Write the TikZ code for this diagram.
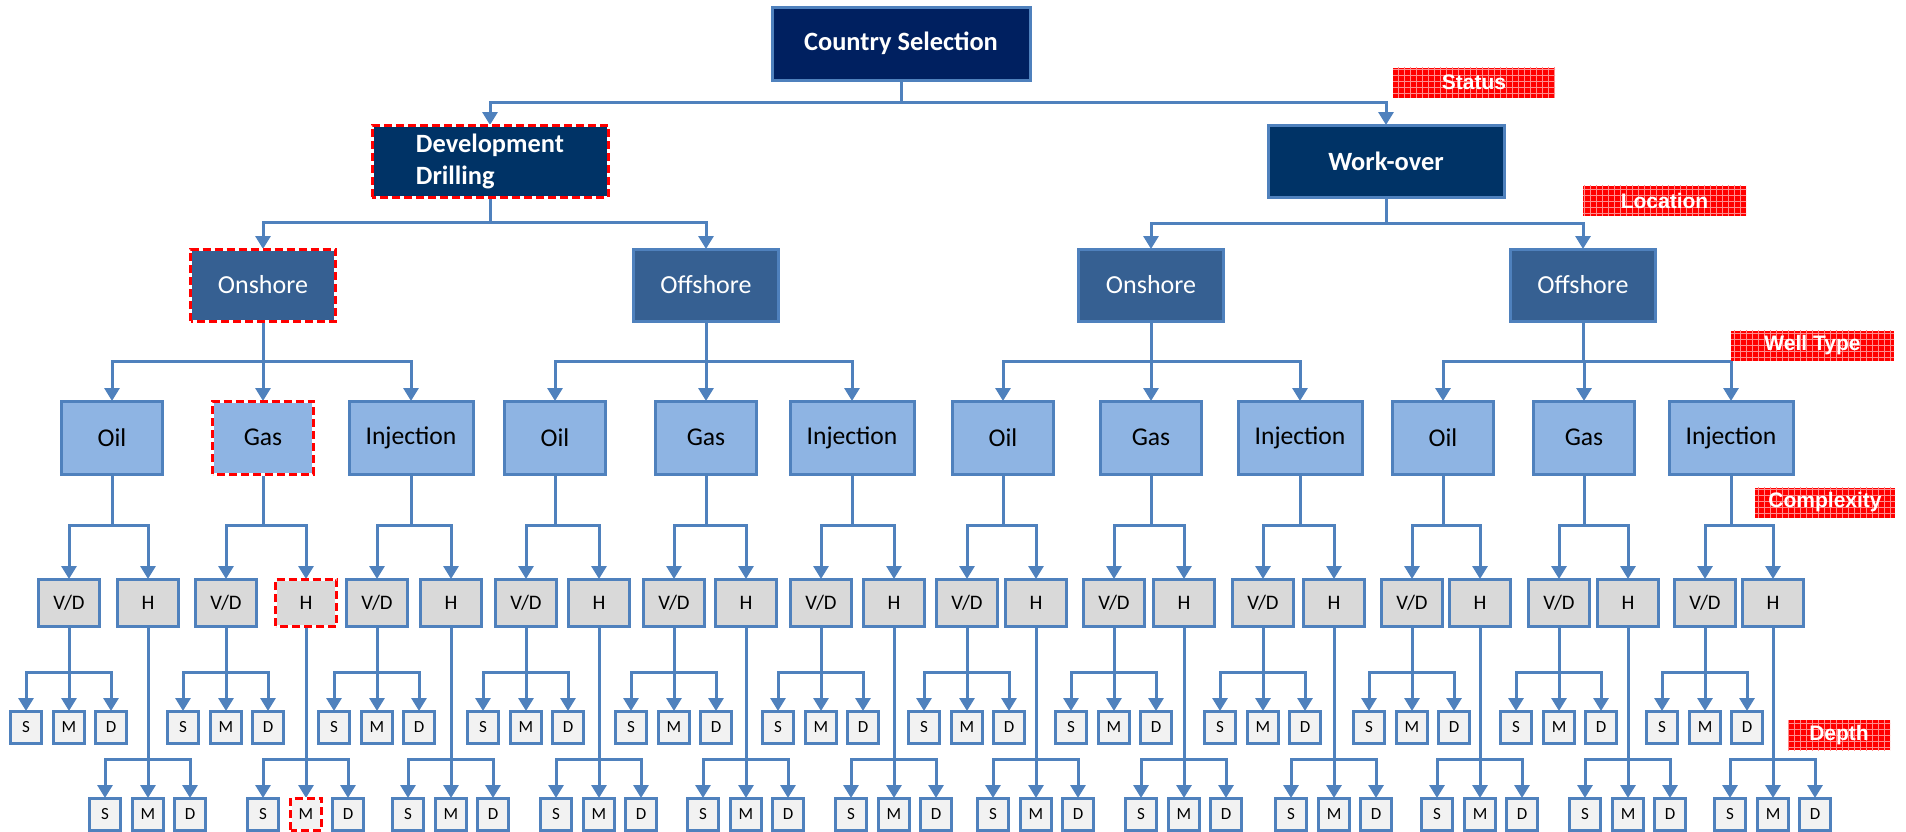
\documentclass[tikz,border=0pt]{standalone}
\usepackage{fontspec}
\setmainfont{Carlito}
\newfontfamily\tagfont{Liberation Sans}
\usetikzlibrary{arrows.meta,patterns}

\definecolor{edgeblue}{RGB}{79,129,189}
\definecolor{navy}{RGB}{0,32,96}
\definecolor{darkblue}{RGB}{0,51,102}
\definecolor{midblue}{RGB}{54,96,146}
\definecolor{lightblue}{RGB}{142,180,227}
\definecolor{boxgray}{RGB}{217,217,217}
\definecolor{palegray}{RGB}{242,242,242}

\tikzset{
  box/.style={draw=edgeblue, line width=1.5pt, inner sep=0pt, outer sep=0pt, align=center},
  topbox/.style={box, fill=navy, text=white, minimum width=129pt, minimum height=36.5pt,
    font=\fontsize{13.2}{16}\selectfont\bfseries},
  statusbox/.style={box, fill=darkblue, text=white, minimum width=118pt, minimum height=36pt,
    font=\fontsize{13.2}{16}\selectfont\bfseries},
  locbox/.style={box, fill=midblue, text=white, minimum width=72.5pt, minimum height=36pt,
    font=\fontsize{13}{15}\selectfont},
  wtype/.style={box, fill=lightblue, minimum height=36.5pt, font=\fontsize{12.8}{15}\selectfont},
  cplx/.style={box, fill=boxgray, minimum width=30.5pt, minimum height=23.5pt,
    font=\fontsize{10.3}{12}\selectfont},
  dep/.style={box, fill=palegray, minimum width=15.5pt, minimum height=16pt,
    font=\fontsize{8.5}{10}\selectfont},
  link/.style={draw=edgeblue, line width=1.5pt, -{Triangle[width=7.5pt,length=6.5pt]}},
  tag/.style={preaction={fill=red}, pattern=grid, pattern color=red!45!white, text=white,
    inner sep=0pt, minimum height=15pt, font=\tagfont\fontsize{10.5}{12}\selectfont\bfseries},
  hl/.style={draw=red, line width=1.5pt, dash pattern=on 4pt off 2pt}
}

% red dashed frame on a chosen box
\newcommand{\redbox}[1]{%
  \draw[white, line width=1.5pt] (#1.south west) rectangle (#1.north east);
  \draw[hl] (#1.south west) rectangle (#1.north east);}

\begin{document}
\begin{tikzpicture}[x=0.5pt, y=-0.5pt]
    \useasboundingbox (0,0) rectangle (1906,831);

    % Country and status
    \node[topbox] (country) at (901,43.5) {Country Selection};
    \node[statusbox, align=left] (dd) at (490,161) {Development\\Drilling};
    \node[statusbox] (wo) at (1386,161) {Work-over};
    \draw[link] (country.south) -- ++(0,22) -| (dd.north);
    \draw[link] (country.south) -- ++(0,22) -| (wo.north);

    % Location
    \node[locbox] (ddon) at (263,285) {Onshore};
    \node[locbox] (ddoff) at (706,285) {Offshore};
    \node[locbox] (woon) at (1151,285) {Onshore};
    \node[locbox] (wooff) at (1583,285) {Offshore};
    \draw[link] (dd.south) -- ++(0,25) -| (ddon.north);
    \draw[link] (dd.south) -- ++(0,25) -| (ddoff.north);
    \draw[link] (wo.south) -- ++(0,26) -| (woon.north);
    \draw[link] (wo.south) -- ++(0,26) -| (wooff.north);

    % Well type, complexity and depth
    \foreach \i/\x/\w/\t/\v/\h/\p in {
        1/112/50.5/Oil/69/148/ddon, 2/263/50.5/Gas/226/306/ddon,
        3/411/62/Injection/377/451/ddon, 4/555/50.5/Oil/526/599/ddoff,
        5/706/50.5/Gas/674/746/ddoff, 6/852/62/Injection/821/894/ddoff,
        7/1003/50.5/Oil/967/1036/woon, 8/1151/50.5/Gas/1114/1184/woon,
        9/1300/62/Injection/1263/1334/woon, 10/1443/50.5/Oil/1412/1480/wooff,
        11/1584/50.5/Gas/1559/1628/wooff, 12/1731/62/Injection/1705/1773/wooff} {
        \node[wtype, minimum width=\w pt] (w\i) at (\x,437.5) {\t};
        \draw[link] (\p.south) -- ++(0,40) -| (w\i.north);
        \node[cplx] (v\i) at (\v,602.5) {V/D};
        \node[cplx] (h\i) at (\h,602.5) {H};
        \draw[link] (w\i.south) -- ++(0,51) -| (v\i.north);
        \draw[link] (w\i.south) -- ++(0,51) -| (h\i.north);
        \foreach \lt/\dx in {S/-43, M/0, D/42} {
            \node[dep] (v\i\lt) at (\v+\dx,727) {\lt};
            \node[dep] (h\i\lt) at (\h+\dx,814) {\lt};
            \draw[link] (v\i.south) -- ++(0,46) -| (v\i\lt.north);
            \draw[link] (h\i.south) -- ++(0,133) -| (h\i\lt.north);
        }
    }

    % Selected path
    \redbox{dd}
    \redbox{ddon}
    \redbox{w2}
    \redbox{h2}
    \redbox{h2M}

    % Level tags
    \node[tag, minimum width=81pt] (status) at (1474,82.5) {Status};
    \node[tag, minimum width=81.5pt] (location) at (1664.5,200.5) {Location};
    \node[tag, minimum width=81.5pt] (welltype) at (1812.5,345.5) {Well Type};
    \node[tag, minimum width=70pt] (complexity) at (1825,502.5) {Complexity};
    \node[tag, minimum width=51pt] (depth) at (1839,735) {Depth};

\end{tikzpicture}
\end{document}
